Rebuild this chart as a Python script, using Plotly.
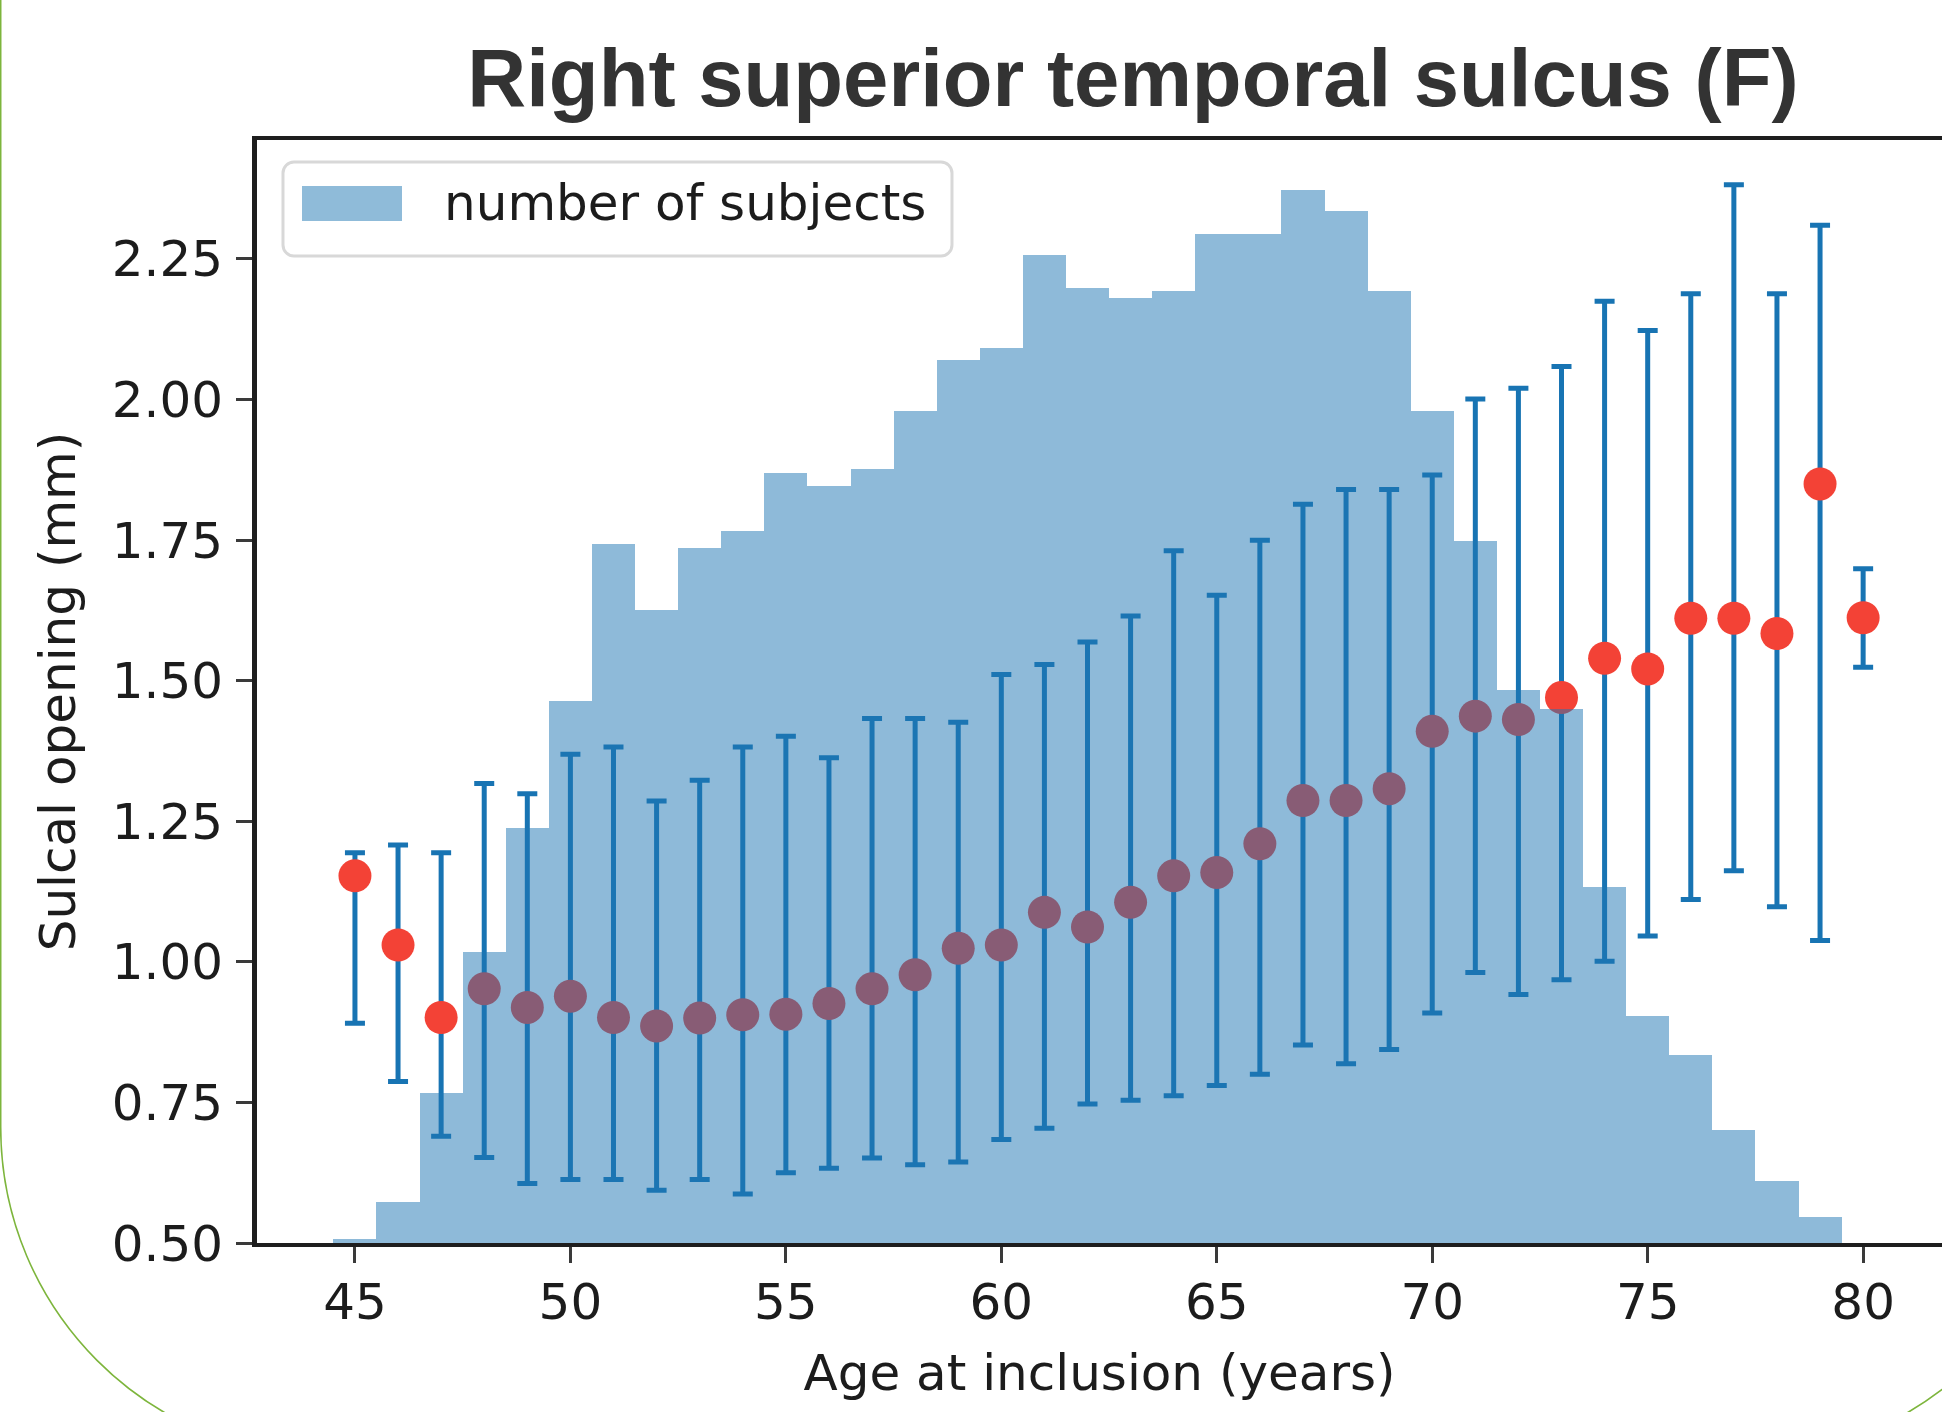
import plotly.graph_objects as go

# ---------------- data ----------------
ages = [45, 46, 47, 48, 49, 50, 51, 52, 53, 54, 55, 56, 57, 58, 59, 60, 61, 62,
        63, 64, 65, 66, 67, 68, 69, 70, 71, 72, 73, 74, 75, 76, 77, 78, 79, 80]
mean_opening = [1.153, 1.030, 0.901, 0.952, 0.919, 0.939, 0.901, 0.886, 0.900, 0.906,
                0.907, 0.926, 0.952, 0.977, 1.024, 1.030, 1.088, 1.062, 1.106, 1.153,
                1.159, 1.210, 1.287, 1.287, 1.308, 1.410, 1.437, 1.431, 1.470, 1.540,
                1.521, 1.611, 1.611, 1.584, 1.850, 1.612]
upper_opening = [1.194, 1.208, 1.194, 1.317, 1.299, 1.369, 1.382, 1.286, 1.323, 1.382,
                 1.401, 1.363, 1.433, 1.433, 1.426, 1.511, 1.529, 1.569, 1.615, 1.731,
                 1.652, 1.750, 1.814, 1.840, 1.840, 1.866, 2.001, 2.020, 2.059, 2.175,
                 2.123, 2.188, 2.382, 2.188, 2.310, 1.699]
lower_opening = [0.891, 0.787, 0.690, 0.652, 0.606, 0.613, 0.613, 0.594, 0.613, 0.587,
                 0.625, 0.633, 0.651, 0.639, 0.644, 0.684, 0.704, 0.747, 0.754, 0.762,
                 0.780, 0.800, 0.852, 0.819, 0.844, 0.909, 0.981, 0.942, 0.968, 1.001,
                 1.046, 1.111, 1.162, 1.098, 1.038, 1.524]

hist_ages = [45, 46, 47, 48, 49, 50, 51, 52, 53, 54, 55, 56, 57, 58, 59, 60, 61, 62,
             63, 64, 65, 66, 67, 68, 69, 70, 71, 72, 73, 74, 75, 76, 77, 78, 79]
n_subjects = [4, 39, 141, 274, 390, 510, 657, 595, 653, 669, 724, 712, 728, 782, 830,
              841, 929, 898, 888, 895, 949, 949, 990, 970, 895, 782, 660, 520, 502, 335,
              213, 177, 106, 58, 24]

x_ticks = [45, 50, 55, 60, 65, 70, 75, 80]
y_ticks = [0.50, 0.75, 1.00, 1.25, 1.50, 1.75, 2.00, 2.25]

title_text = "Right superior temporal sulcus (F)"
x_title = "Age at inclusion (years)"
y_title = "Sulcal opening (mm)"
legend_text = "number of subjects"

# ---------------- layout geometry ----------------
W, H = 1942, 1412
L, R, T, B = 257, 0, 140, 169
PW, PH = W - L - R, H - T - B


def pp(px, py):
    return (px - L) / PW, (H - B - py) / PH


def path_from(points_cmds):
    out = []
    for cmd, pts in points_cmds:
        coords = " ".join("%.5f,%.5f" % pp(x, y) for x, y in pts)
        out.append(cmd + " " + coords)
    return " ".join(out)


def rounded_rect(x0, y0, x1, y1, r):
    k = 0.5523 * r
    return path_from([
        ("M", [(x0 + r, y0)]),
        ("L", [(x1 - r, y0)]),
        ("C", [(x1 - r + k, y0), (x1, y0 + r - k), (x1, y0 + r)]),
        ("L", [(x1, y1 - r)]),
        ("C", [(x1, y1 - r + k), (x1 - r + k, y1), (x1 - r, y1)]),
        ("L", [(x0 + r, y1)]),
        ("C", [(x0 + r - k, y1), (x0, y1 - r + k), (x0, y1 - r)]),
        ("L", [(x0, y0 + r)]),
        ("C", [(x0, y0 + r - k), (x0 + r - k, y0), (x0 + r, y0)]),
    ]) + " Z"


err_plus = [u - m for u, m in zip(upper_opening, mean_opening)]
err_minus = [m - l for m, l in zip(mean_opening, lower_opening)]

fig = go.Figure()

fig.add_trace(go.Scatter(
    x=ages, y=mean_opening, mode="markers",
    marker=dict(color="#f34236", size=33, line=dict(width=0)),
    error_y=dict(type="data", symmetric=False, array=err_plus, arrayminus=err_minus,
                 color="#1874b3", thickness=5, width=10),
    showlegend=False, xaxis="x", yaxis="y",
))

fig.add_trace(go.Bar(
    x=hist_ages, y=n_subjects, marker=dict(color="#1f77b4", line=dict(width=0)),
    opacity=0.5, showlegend=False, xaxis="x", yaxis="y2", name=legend_text,
))

tick_font = dict(family="DejaVu Sans", size=50, color="#1c1c1c")
axis_col = "#1e1e1e"

fig.update_layout(
    width=W, height=H,
    margin=dict(l=L, r=R, t=T, b=B, pad=0),
    paper_bgcolor="white", plot_bgcolor="rgba(0,0,0,0)",
    bargap=0,
    showlegend=False,
    title=dict(text="<b>" + title_text + "</b>", x=1133 / W, xanchor="center",
               y=1 - 77 / H, yanchor="middle", xref="container", yref="container",
               font=dict(family="Liberation Sans, Arial", size=81.5, color="#333333")),
    xaxis=dict(range=[42.727, 81.83], tickmode="array", tickvals=x_ticks,
               ticktext=[str(v) for v in x_ticks],
               showgrid=False, zeroline=False, showline=True, linecolor=axis_col,
               linewidth=4, mirror=True, ticks="outside", ticklen=16, tickwidth=3,
               tickcolor="#3a3a3a", tickfont=tick_font, ticklabelstandoff=-4,
               title=dict(text=x_title, font=tick_font, standoff=26)),
    yaxis=dict(range=[0.5, 2.4616], tickmode="array", tickvals=y_ticks,
               ticktext=["%.2f" % v for v in y_ticks],
               showgrid=False, zeroline=False, showline=True, linecolor=axis_col,
               linewidth=5, mirror=False, ticks="outside", ticklen=16, tickwidth=3,
               tickcolor="#3a3a3a", tickfont=tick_font, ticklabelstandoff=3,
               title=dict(text=y_title, font=tick_font, standoff=22)),
    yaxis2=dict(range=[0, 1037], overlaying="y", visible=False, showgrid=False,
                zeroline=False),
)

shapes = []
# slide frame (green rounded border, partly outside the picture)
k = 0.5523 * 330
frame = path_from([
    ("M", [(0.7, -60)]),
    ("L", [(0.7, 1127)]),
    ("C", [(0.7, 1127 + k), (330 - k, 1457), (330, 1457)]),
    ("L", [(1742, 1457)]),
    ("C", [(1742 + k, 1457), (2072, 1127 + k), (2072, 1127)]),
    ("L", [(2072, -60)]),
])
shapes.append(dict(type="path", path=frame, xref="paper", yref="paper",
                   line=dict(color="#7db53c", width=1.6), fillcolor="rgba(0,0,0,0)",
                   layer="above"))
# legend frame and patch
shapes.append(dict(type="path", path=rounded_rect(283, 162, 952, 256, 11),
                   xref="paper", yref="paper", line=dict(color="#d8d8d8", width=3),
                   fillcolor="rgba(255,255,255,0.85)", layer="above"))
px0, py0 = pp(302, 186)
px1, py1 = pp(402, 221)
shapes.append(dict(type="rect", x0=px0, y0=py0, x1=px1, y1=py1, xref="paper",
                   yref="paper", line=dict(width=0), fillcolor="#8fbbd9",
                   layer="above"))
fig.update_layout(shapes=shapes)

lx, ly = pp(442, 203)
fig.add_annotation(text=legend_text, x=lx, y=ly, xref="paper", yref="paper",
                   xanchor="left", yanchor="middle", showarrow=False,
                   font=dict(family="DejaVu Sans", size=50, color="#1c1c1c"))

fig.write_html("out.html", config={"displayModeBar": False},
               post_script="document.body.style.margin='0';document.body.style.overflow='hidden';")
